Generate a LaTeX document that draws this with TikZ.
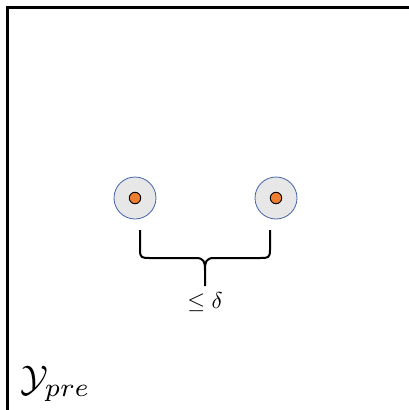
\documentclass[tikz,border=0pt]{standalone}
\usepackage{graphicx}
\begin{document}
\begin{tikzpicture}[x=1pt,y=-1pt,
  ring/.style={circle,draw={rgb,255:red,68;green,100;blue,170},line width=0.8pt,fill={rgb,255:red,231;green,231;blue,231},minimum size=42pt,inner sep=0pt},
  dot/.style={circle,draw=black,line width=0.9pt,fill={rgb,255:red,237;green,125;blue,49},minimum size=11.5pt,inner sep=0pt},
  bracepath/.style={line width=2pt,line join=round}]
\useasboundingbox (0,0) rectangle (409,410);
\draw[line width=2.8pt] (7.5,412) -- (7.5,7.5) -- (412,7.5);
\node[ring] (c1) at (135,198) {};
\node[dot] (d1) at (135,198) {};
\node[ring] (c2) at (276,198) {};
\node[dot] (d2) at (276,198) {};
\coordinate (bl) at (140,230);
\coordinate (br) at (270,230);
\coordinate (bm) at (205,286);
\draw[bracepath] (bl) -- (140,250) .. controls (140,258) and (142,258) .. (150,258)
  -- (196,258) .. controls (204,258) and (205,262) .. (205,270) -- (bm);
\draw[bracepath] (br) -- (270,250) .. controls (270,258) and (268,258) .. (260,258)
  -- (214,258) .. controls (206,258) and (205,262) .. (205,270);
\node (lbl) at (205,302) {\scalebox{2.3}{$\leq\delta$}};
\node[anchor=south west,inner sep=0pt] (yp) at (20,402) {\scalebox{3.7}{$\mathcal{Y}_{pre}$}};
\end{tikzpicture}
\end{document}
